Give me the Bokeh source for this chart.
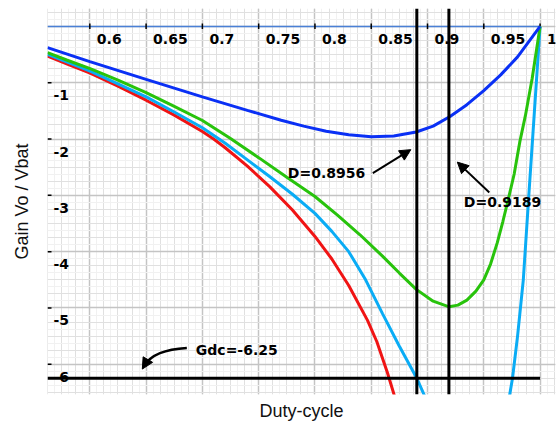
import math
from bokeh.plotting import figure
from bokeh.models import (Range1d, Grid, SingleIntervalTicker, Arrow, NormalHead, Span,
                          LinearAxis, FixedTicker)
from bokeh.core.properties import value
from bokeh.embed import file_html
from bokeh.resources import INLINE

NaN = float("nan")

# ---------------- data ----------------
X_TICKS = [0.6, 0.65, 0.7, 0.75, 0.8, 0.85, 0.9, 0.95, 1.0]
X_TICK_LABELS = ["0.6", "0.65", "0.7", "0.75", "0.8", "0.85", "0.9", "0.95", "1"]
Y_TICKS = [-1, -2, -3, -4, -5, -6]
Y_TICK_LABELS = ["-1", "-2", "-3", "-4", "-5", "-6"]

D_BLUE = [0.5624, 0.60, 0.65, 0.70, 0.74, 0.77, 0.79, 0.81, 0.83, 0.85, 0.87, 0.89, 0.905,
          0.92, 0.935, 0.95, 0.965, 0.98, 1.0]
G_BLUE = [-0.377, -0.625, -0.94, -1.25, -1.49, -1.665, -1.77, -1.86, -1.925, -1.96, -1.945, -1.875, -1.77,
          -1.60, -1.39, -1.14, -0.86, -0.54, 0.0]

D_GREEN = [0.5624, 0.58, 0.6003, 0.625, 0.65, 0.675, 0.70, 0.725, 0.75, 0.775, 0.80, 0.82, 0.84,
           0.86, 0.875, 0.89, 0.905, 0.9192, 0.927, 0.935, 0.943, 0.95, 0.956, 0.962, 0.967,
           0.972, 0.977, 0.982, 0.987, 0.993, 1.0]
G_GREEN = [-0.466, -0.60, -0.749, -0.955, -1.175, -1.42, -1.67, -1.99, -2.33, -2.68, -3.02, -3.35, -3.70,
           -4.08, -4.38, -4.67, -4.88, -4.98, -4.95, -4.86, -4.70, -4.50, -4.22, -3.84, -3.46,
           -3.05, -2.62, -2.05, -1.58, -0.92, 0.0]

D_CYAN = [0.5624, 0.58, 0.6003, 0.625, 0.65, 0.675, 0.70, 0.72, 0.74, 0.76, 0.78, 0.80, 0.815,
          0.83, 0.845, 0.86, 0.875, 0.8905, 0.90, NaN,
          0.9725, 0.9755, 0.98, 0.9851, 0.99, 0.995, 1.0]
G_CYAN = [-0.496, -0.633, -0.792, -1.02, -1.25, -1.52, -1.80, -2.07, -2.37, -2.67, -2.98, -3.32, -3.64,
          -4.0, -4.50, -5.10, -5.68, -6.248, -6.68, NaN,
          -6.6, -6.248, -5.5, -4.5, -3.0, -1.5, 0.0]

D_RED = [0.5624, 0.58, 0.6003, 0.625, 0.65, 0.675, 0.70, 0.71, 0.72, 0.74, 0.76, 0.78, 0.80,
         0.815, 0.83, 0.8467, 0.855, 0.8644, 0.875]
G_RED = [-0.526, -0.667, -0.827, -1.06, -1.31, -1.575, -1.865, -2.0, -2.15, -2.48, -2.85, -3.26, -3.73,
         -4.13, -4.60, -5.22, -5.60, -6.15, -6.85]

GDC = -6.25
D_MARK_1 = 0.8905
D_MARK_2 = 0.9190
D_MAX = 1.0
LABEL_1 = "D=0.8956"
LABEL_2 = "D=0.9189"
GDC_LABEL = "Gdc=-6.25"
X_TITLE = "Duty-cycle"
Y_TITLE = "Gain Vo / Vbat"

# ---------------- layout ----------------
X0, X1 = 0.5624, 1.0137
Y0, Y1 = -6.537, 0.319
PX_X = 508 / (X1 - X0)
PX_Y = 387 / (Y1 - Y0)

p = figure(width=558, height=423,
           x_range=Range1d(X0, X1), y_range=Range1d(Y0, Y1),
           x_axis_location=None, y_axis_location=None,
           toolbar_location=None, output_backend="svg",
           min_border_left=47, min_border_right=3, min_border_top=8, min_border_bottom=28,
           outline_line_color=None, background_fill_color="white", border_fill_color="white")
p.grid.visible = False

for interval, color, width in [(0.00625, "#f1f1f1", 1), (0.0125, "#e0e0e0", 1), (0.05, "#c4c4c4", 1.5)]:
    p.add_layout(Grid(dimension=0, ticker=SingleIntervalTicker(interval=interval),
                      grid_line_color=color, grid_line_width=width))
for interval, color, width in [(0.125, "#f1f1f1", 1), (0.25, "#e0e0e0", 1), (1.0, "#c4c4c4", 1.5)]:
    p.add_layout(Grid(dimension=1, ticker=SingleIntervalTicker(interval=interval),
                      grid_line_color=color, grid_line_width=width))

# axis titles through blank axes
title_style = dict(ticker=FixedTicker(ticks=[]), axis_line_color=None,
                   major_tick_line_color=None, minor_tick_line_color=None,
                   major_tick_in=0, major_tick_out=0, minor_tick_in=0, minor_tick_out=0,
                   major_label_text_font_size="0px", major_label_standoff=0,
                   axis_label_text_font="Liberation Sans", axis_label_text_font_size="18px",
                   axis_label_text_font_style="normal", axis_label_text_color="#111111")
p.add_layout(LinearAxis(axis_label=X_TITLE, axis_label_standoff=6, **title_style), "below")
p.add_layout(LinearAxis(axis_label=Y_TITLE, axis_label_standoff=16, **title_style), "left")

FONT = value("DejaVu Sans")

# axis line at G=0 and ticks
p.segment(x0=[X0], y0=[0], x1=[D_MAX], y1=[0], line_color="#4a80d6", line_width=1.5)
p.segment(x0=X_TICKS, y0=[3.0 / PX_Y] * len(X_TICKS), x1=X_TICKS, y1=[-2.5 / PX_Y] * len(X_TICKS),
          line_color="black", line_width=1.5)
p.segment(x0=[X0] * len(Y_TICKS), y0=Y_TICKS, x1=[X0 + 4.0 / PX_X] * len(Y_TICKS), y1=Y_TICKS,
          line_color="black", line_width=1.5)

# tick labels
p.text(x=X_TICKS, y=[-12.5 / PX_Y] * len(X_TICKS), text=X_TICK_LABELS, x_offset=7,
       text_font=FONT, text_font_style="bold", text_font_size="14px",
       text_align="left", text_baseline="middle", text_color="black")
p.text(x=[X0] * len(Y_TICKS), y=[t - 12.5 / PX_Y for t in Y_TICKS], text=Y_TICK_LABELS, x_offset=6,
       text_font=FONT, text_font_style="bold", text_font_size="14px",
       text_align="left", text_baseline="middle", text_color="black")

# curves
p.line(D_RED, G_RED, line_color="#f01414", line_width=3)
p.line(D_CYAN, G_CYAN, line_color="#0aacf5", line_width=3)
p.line(D_GREEN, G_GREEN, line_color="#28c30c", line_width=3)
p.line(D_BLUE, G_BLUE, line_color="#0a30f5", line_width=3)

# black reference lines
p.segment(x0=[X0], y0=[GDC], x1=[D_MAX], y1=[GDC], line_color="black", line_width=3)
p.add_layout(Span(location=D_MARK_1, dimension="height", line_color="black", line_width=3))
p.add_layout(Span(location=D_MARK_2, dimension="height", line_color="black", line_width=3))

# annotations
def px2d(px, py):
    return (0.6 + (px - 89) / PX_X, -(py - 26) / PX_Y)

ann_font = dict(text_font=FONT, text_font_style="bold", text_font_size="14px",
                text_baseline="middle", text_align="left", text_color="black")
lx, ly = px2d(287, 173)
p.text(x=[lx], y=[ly], text=[LABEL_1], **ann_font)
lx, ly = px2d(463, 201.5)
p.text(x=[lx], y=[ly], text=[LABEL_2], **ann_font)
lx, ly = px2d(195, 350.5)
p.text(x=[lx], y=[ly], text=[GDC_LABEL], **ann_font)

def head():
    return NormalHead(size=11, fill_color="black", line_color="black", line_width=1)

ax0, ay0 = px2d(372, 173)
ax1, ay1 = px2d(410, 149.5)
p.add_layout(Arrow(x_start=ax0, y_start=ay0, x_end=ax1, y_end=ay1, end=head(),
                   line_color="black", line_width=2))
ax0, ay0 = px2d(488.5, 192.5)
ax1, ay1 = px2d(456.5, 162)
p.add_layout(Arrow(x_start=ax0, y_start=ay0, x_end=ax1, y_end=ay1, end=head(),
                   line_color="black", line_width=2))

qx0, qy0 = px2d(186, 348.3)
qcx, qcy = px2d(153, 350)
qx1, qy1 = px2d(143.5, 366)
p.quadratic(x0=[qx0], y0=[qy0], x1=[qx1], y1=[qy1], cx=[qcx], cy=[qcy], line_color="black", line_width=2.5)
hx0, hy0 = px2d(145, 363.5)
hx1, hy1 = px2d(141.5, 369.5)
p.add_layout(Arrow(x_start=hx0, y_start=hy0, x_end=hx1, y_end=hy1, end=head(),
                   line_color="black", line_width=2.5))

open("out.html", "w").write(file_html(p, INLINE))
